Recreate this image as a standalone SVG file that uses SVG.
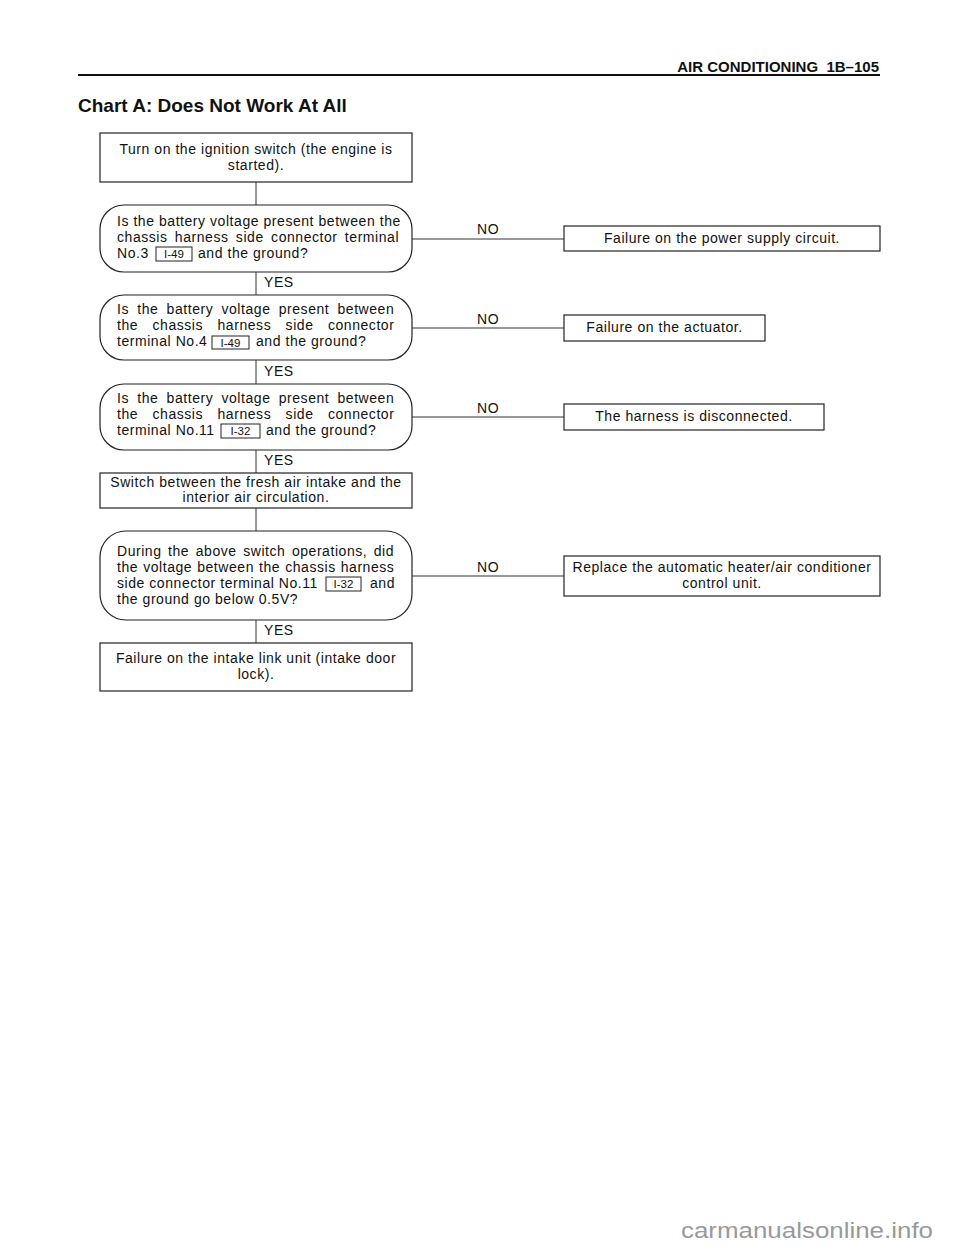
<svg xmlns="http://www.w3.org/2000/svg" width="960" height="1250" viewBox="0 0 960 1250">
<style>
text{font-family:"Liberation Sans",Arial,sans-serif;fill:#111}
.t{font-size:14px;letter-spacing:0.55px}
.c{text-anchor:middle}
.s{font-size:11.5px}
.box{fill:#fff;stroke:#222;stroke-width:1.2}
.ib{fill:none;stroke:#222;stroke-width:1}
.ln{stroke:#333;stroke-width:1;fill:none}
</style>
<rect width="960" height="1250" fill="#fff"/>
<g id="header">
<line x1="78" y1="75" x2="880" y2="75" stroke="#111" stroke-width="2"/>
<text x="879" y="72" font-size="15" font-weight="bold" text-anchor="end" xml:space="preserve">AIR CONDITIONING  1B–105</text>
<text x="78" y="112" font-size="19" font-weight="bold">Chart A: Does Not Work At All</text>
</g>
<g id="connectors">
<path class="ln" d="M256 182V205M256 272V295M256 360V384M256 450V473M256 508V531M256 620V643"/>
<path class="ln" d="M412 239H564M412 328H564M412 417H564M412 576H564"/>
<text class="t" x="264" y="287">YES</text>
<text class="t" x="264" y="376">YES</text>
<text class="t" x="264" y="465">YES</text>
<text class="t" x="264" y="635">YES</text>
<text class="t" x="477" y="234">NO</text>
<text class="t" x="477" y="324">NO</text>
<text class="t" x="477" y="413">NO</text>
<text class="t" x="477" y="572">NO</text>
</g>
<g id="n1">
<rect class="box" x="100" y="133" width="312" height="49"/>
<text class="t c" x="256" y="154">Turn on the ignition switch (the engine is</text>
<text class="t c" x="256" y="170">started).</text>
</g>
<g id="n2">
<rect class="box" x="100" y="205" width="312" height="67" rx="24" ry="24"/>
<text class="t" x="117" y="226">Is the battery voltage present between the</text>
<text class="t" x="117" y="242" word-spacing="2.9">chassis harness side connector terminal</text>
<text class="t" x="117" y="258">No.3</text>
<rect class="ib" x="156" y="247" width="36" height="14"/>
<text class="s c" x="174" y="258">I-49</text>
<text class="t" x="198" y="258">and the ground?</text>
</g>
<g id="n3">
<rect class="box" x="100" y="295" width="312" height="65" rx="24" ry="24"/>
<text class="t" x="117" y="314" word-spacing="3.8">Is the battery voltage present between</text>
<text class="t" x="117" y="330" word-spacing="10">the chassis harness side connector</text>
<text class="t" x="117" y="346">terminal No.4</text>
<rect class="ib" x="212" y="336" width="37" height="13"/>
<text class="s c" x="230.5" y="347">I-49</text>
<text class="t" x="256" y="346">and the ground?</text>
</g>
<g id="n4">
<rect class="box" x="100" y="384" width="312" height="66" rx="24" ry="24"/>
<text class="t" x="117" y="403" word-spacing="3.8">Is the battery voltage present between</text>
<text class="t" x="117" y="419" word-spacing="10">the chassis harness side connector</text>
<text class="t" x="117" y="435">terminal No.11</text>
<rect class="ib" x="221" y="424" width="39" height="14"/>
<text class="s c" x="240.5" y="435">I-32</text>
<text class="t" x="266" y="435">and the ground?</text>
</g>
<g id="n5">
<rect class="box" x="100" y="473" width="312" height="35"/>
<text class="t c" x="256" y="487">Switch between the fresh air intake and the</text>
<text class="t c" x="256" y="502">interior air circulation.</text>
</g>
<g id="n6">
<rect class="box" x="100" y="531" width="312" height="89" rx="26" ry="26"/>
<text class="t" x="117" y="556" word-spacing="2.1">During the above switch operations, did</text>
<text class="t" x="117" y="572" word-spacing="0.6">the voltage between the chassis harness</text>
<text class="t" x="117" y="588">side connector terminal No.11</text>
<rect class="ib" x="326" y="577" width="35" height="14"/>
<text class="s c" x="343.5" y="588">I-32</text>
<text class="t" x="370" y="588">and</text>
<text class="t" x="117" y="604">the ground go below 0.5V?</text>
</g>
<g id="n7">
<rect class="box" x="100" y="643" width="312" height="48"/>
<text class="t c" x="256" y="663">Failure on the intake link unit (intake door</text>
<text class="t c" x="256" y="679">lock).</text>
</g>
<g id="r1">
<rect class="box" x="564" y="226" width="316" height="25"/>
<text class="t c" x="722" y="243">Failure on the power supply circuit.</text>
</g>
<g id="r2">
<rect class="box" x="564" y="315" width="201" height="26"/>
<text class="t c" x="664.5" y="332">Failure on the actuator.</text>
</g>
<g id="r3">
<rect class="box" x="564" y="404" width="260" height="26"/>
<text class="t c" x="694" y="421">The harness is disconnected.</text>
</g>
<g id="r4">
<rect class="box" x="564" y="556" width="316" height="40"/>
<text class="t c" x="722" y="572">Replace the automatic heater/air conditioner</text>
<text class="t c" x="722" y="588">control unit.</text>
</g>
<text x="681" y="1238" font-size="22" style="fill:#999" textLength="252" lengthAdjust="spacingAndGlyphs">carmanualsonline.info</text>
</svg>
